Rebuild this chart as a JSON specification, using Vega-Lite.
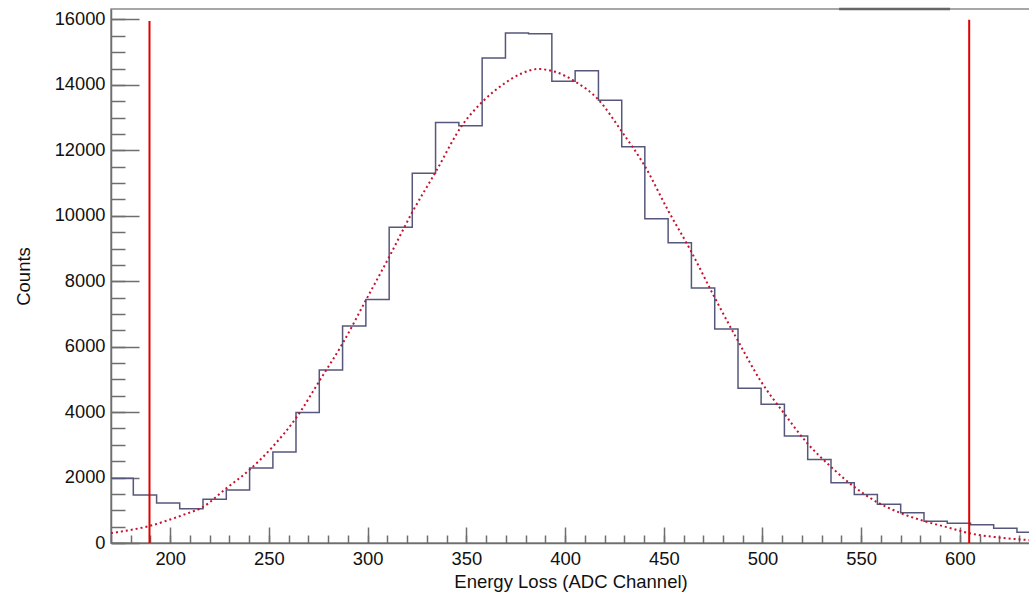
{
  "$schema": "https://vega.github.io/schema/vega-lite/v6.json",
  "width": 919,
  "height": 534,
  "autosize": {"type": "none"},
  "padding": {"left": 111, "top": 9, "right": 0, "bottom": 49},
  "background": "white",
  "config": {
    "view": {"stroke": "#8a8a8a", "strokeWidth": 1.5},
    "axis": {
      "labelFont": "Liberation Sans",
      "titleFont": "Liberation Sans",
      "labelColor": "#111111",
      "titleColor": "#111111",
      "domainColor": "#6e6e6e",
      "domainWidth": 1.5,
      "tickColor": "#6e6e6e",
      "tickWidth": 1.5,
      "grid": false,
      "titleFontWeight": "normal",
      "labelOverlap": false,
      "labelFlush": false,
      "tickCount": 200
    }
  },
  "resolve": {"axis": {"x": "independent", "y": "independent"}},
  "datasets": {
    "hist": [
      {"channel": 169.5, "counts": 1980},
      {"channel": 181.3, "counts": 1470},
      {"channel": 193.1, "counts": 1220},
      {"channel": 204.8, "counts": 1050},
      {"channel": 216.6, "counts": 1340},
      {"channel": 228.4, "counts": 1620},
      {"channel": 240.2, "counts": 2290},
      {"channel": 252.0, "counts": 2780},
      {"channel": 263.7, "counts": 3990},
      {"channel": 275.5, "counts": 5290},
      {"channel": 287.3, "counts": 6630},
      {"channel": 299.1, "counts": 7440},
      {"channel": 310.9, "counts": 9650},
      {"channel": 322.6, "counts": 11300},
      {"channel": 334.4, "counts": 12850},
      {"channel": 346.2, "counts": 12750},
      {"channel": 358.0, "counts": 14820},
      {"channel": 369.8, "counts": 15590},
      {"channel": 381.5, "counts": 15560},
      {"channel": 393.3, "counts": 14110},
      {"channel": 405.1, "counts": 14430},
      {"channel": 416.9, "counts": 13530},
      {"channel": 428.7, "counts": 12110},
      {"channel": 440.4, "counts": 9910},
      {"channel": 452.2, "counts": 9180},
      {"channel": 464.0, "counts": 7790},
      {"channel": 475.8, "counts": 6540},
      {"channel": 487.6, "counts": 4730},
      {"channel": 499.3, "counts": 4240},
      {"channel": 511.1, "counts": 3270},
      {"channel": 522.9, "counts": 2550},
      {"channel": 534.7, "counts": 1845},
      {"channel": 546.5, "counts": 1480},
      {"channel": 558.2, "counts": 1185},
      {"channel": 570.0, "counts": 925},
      {"channel": 581.8, "counts": 665},
      {"channel": 593.6, "counts": 600},
      {"channel": 605.4, "counts": 560},
      {"channel": 617.1, "counts": 450},
      {"channel": 628.9, "counts": 330},
      {"channel": 640.7, "counts": 330}
    ],
    "fit": [
      {"channel": 170, "counts": 300},
      {"channel": 180, "counts": 400},
      {"channel": 189.5, "counts": 520},
      {"channel": 200, "counts": 720},
      {"channel": 208, "counts": 890},
      {"channel": 216, "counts": 1080},
      {"channel": 228, "counts": 1650},
      {"channel": 240.4, "counts": 2250},
      {"channel": 252, "counts": 2950},
      {"channel": 264.1, "counts": 3850},
      {"channel": 275.9, "counts": 4985},
      {"channel": 287.4, "counts": 6107},
      {"channel": 299.2, "counts": 7431},
      {"channel": 311, "counts": 8755},
      {"channel": 322.8, "counts": 10131},
      {"channel": 334.6, "counts": 11354},
      {"channel": 347.7, "counts": 12752},
      {"channel": 358.3, "counts": 13495},
      {"channel": 369.6, "counts": 14058},
      {"channel": 378, "counts": 14350},
      {"channel": 386.5, "counts": 14486},
      {"channel": 395, "counts": 14400},
      {"channel": 405, "counts": 14107},
      {"channel": 416.9, "counts": 13547},
      {"channel": 428.7, "counts": 12578},
      {"channel": 440.5, "counts": 11507},
      {"channel": 452.3, "counts": 10150},
      {"channel": 463.5, "counts": 8950},
      {"channel": 475.5, "counts": 7532},
      {"channel": 487.3, "counts": 6208},
      {"channel": 499.1, "counts": 4950},
      {"channel": 510.9, "counts": 3966},
      {"channel": 522.7, "counts": 3049},
      {"channel": 534.6, "counts": 2333},
      {"channel": 546.4, "counts": 1720},
      {"channel": 558, "counts": 1250},
      {"channel": 570.6, "counts": 900},
      {"channel": 582.4, "counts": 660},
      {"channel": 594.3, "counts": 470},
      {"channel": 604.7, "counts": 300},
      {"channel": 617.9, "counts": 180},
      {"channel": 635, "counts": 90}
    ],
    "limits": [
      {"channel": 189.5, "counts": 0, "top": 15950},
      {"channel": 604.7, "counts": 0, "top": 15990}
    ],
    "box": [
      {"channel": 538.8, "end": 595.0, "counts": 16320}
    ]
  },
  "layer": [
    {
      "data": {"name": "hist"},
      "mark": {"type": "line", "interpolate": "step-after", "color": "#55587a", "strokeWidth": 1.5, "clip": true},
      "encoding": {
        "x": {
          "field": "channel",
          "type": "quantitative",
          "scale": {"domain": [170, 635.5], "nice": false, "zero": false},
          "axis": {
            "orient": "bottom",
            "title": null,
            "labels": false,
            "domain": false,
            "tickSize": -8,
            "values": [170, 180, 190, 200, 210, 220, 230, 240, 250, 260, 270, 280, 290, 300, 310, 320, 330, 340, 350, 360, 370, 380, 390, 400, 410, 420, 430, 440, 450, 460, 470, 480, 490, 500, 510, 520, 530, 540, 550, 560, 570, 580, 590, 600, 610, 620, 630]
          }
        },
        "y": {
          "field": "counts",
          "type": "quantitative",
          "scale": {"domain": [0, 16320], "nice": false},
          "axis": {
            "orient": "left",
            "title": null,
            "labels": false,
            "domain": false,
            "tickSize": -14,
            "values": [0, 500, 1000, 1500, 2000, 2500, 3000, 3500, 4000, 4500, 5000, 5500, 6000, 6500, 7000, 7500, 8000, 8500, 9000, 9500, 10000, 10500, 11000, 11500, 12000, 12500, 13000, 13500, 14000, 14500, 15000, 15500, 16000]
          }
        }
      }
    },
    {
      "data": {"name": "fit"},
      "mark": {"type": "line", "interpolate": "monotone", "color": "#c8102e", "strokeWidth": 2, "strokeDash": [2, 3], "clip": true},
      "encoding": {
        "x": {
          "field": "channel",
          "type": "quantitative",
          "axis": {
            "orient": "bottom",
            "title": "Energy Loss (ADC Channel)",
            "titleFontSize": 18.5,
            "titlePadding": 5,
            "labelFontSize": 18.4,
            "labelPadding": 22,
            "format": "d",
            "tickSize": -16,
            "values": [200, 250, 300, 350, 400, 450, 500, 550, 600]
          }
        },
        "y": {
          "field": "counts",
          "type": "quantitative",
          "axis": {
            "orient": "left",
            "title": "Counts",
            "titleFontSize": 18.5,
            "titlePadding": 21,
            "labelFontSize": 18.3,
            "labelPadding": 34,
            "format": "d",
            "tickSize": -28,
            "values": [0, 2000, 4000, 6000, 8000, 10000, 12000, 14000, 16000]
          }
        }
      }
    },
    {
      "data": {"name": "limits"},
      "mark": {"type": "rule", "color": "#e00000", "strokeWidth": 2},
      "encoding": {
        "x": {"field": "channel", "type": "quantitative", "axis": null},
        "y": {"field": "counts", "type": "quantitative", "axis": null},
        "y2": {"field": "top"}
      }
    },
    {
      "data": {"name": "box"},
      "mark": {"type": "rule", "color": "#666666", "strokeWidth": 2.5},
      "encoding": {
        "x": {"field": "channel", "type": "quantitative", "axis": null},
        "x2": {"field": "end"},
        "y": {"field": "counts", "type": "quantitative", "axis": null}
      }
    }
  ]
}
